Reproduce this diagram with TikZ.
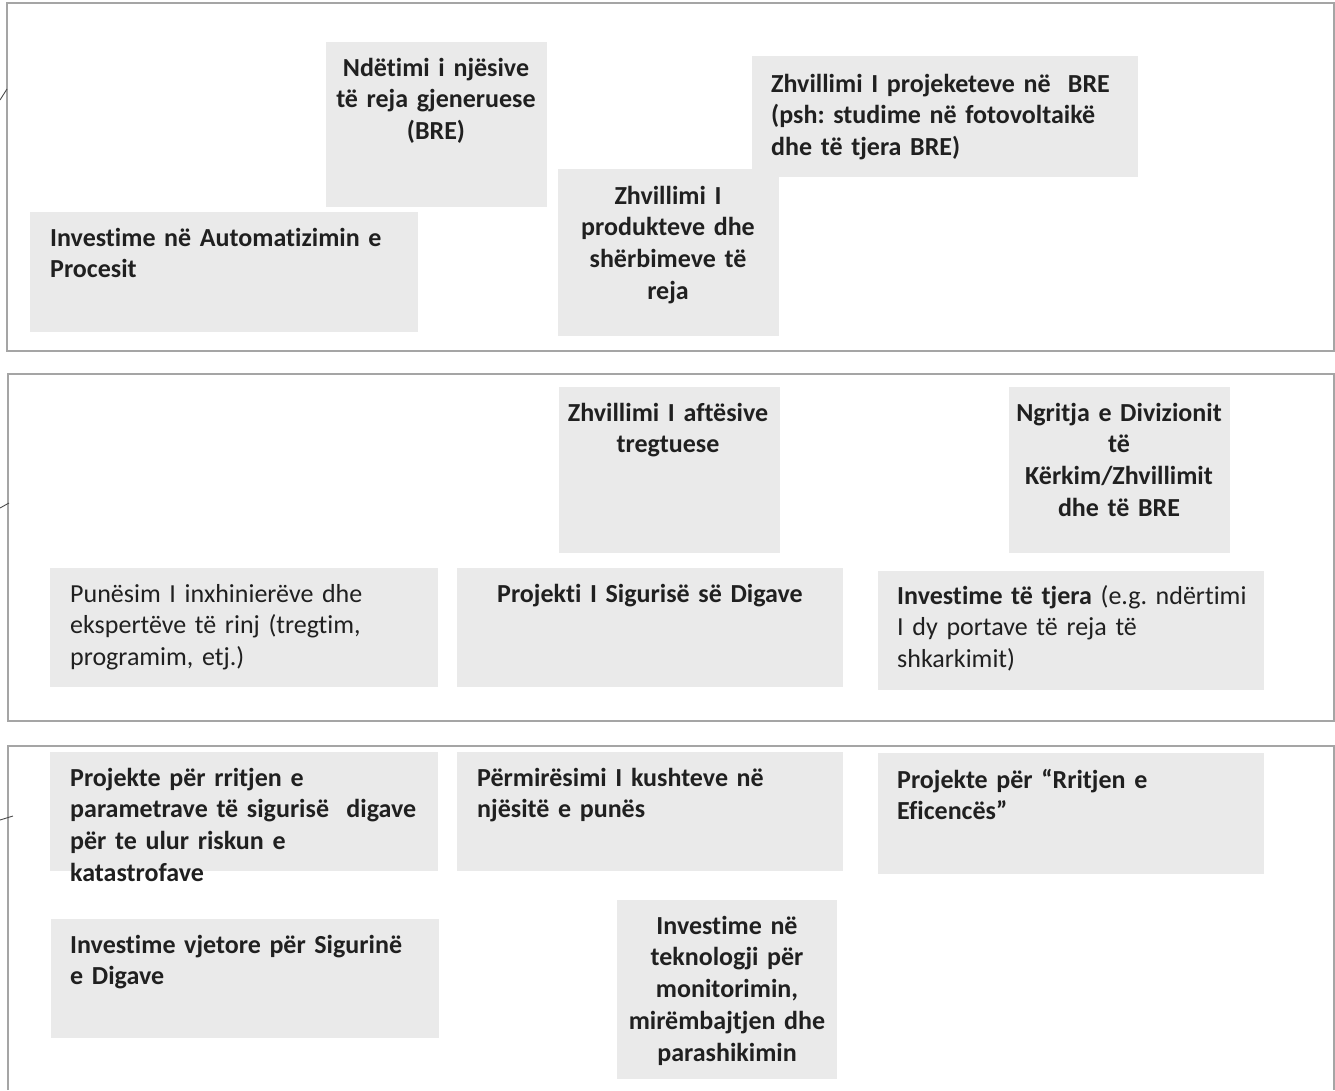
\documentclass[tikz,border=0pt]{standalone}
\usepackage{fontspec}
\setmainfont{Carlito}[Ligatures={NoCommon,NoContextual}]

\definecolor{grikuti}{RGB}{234,234,234}
\definecolor{grikorniza}{RGB}{165,165,165}
\definecolor{bojateksti}{RGB}{32,32,32}

\begin{document}
\frenchspacing
\begin{tikzpicture}[x=1pt, y=-1pt,
    kuti/.style={fill=grikuti},
    korniza/.style={draw=grikorniza, line width=1.3pt},
    vija/.style={draw=black!70, line width=0.9pt},
    teksti/.style={anchor=base west, inner sep=0pt, align=left, text=bojateksti,
        text width=#1, font=\fontsize{26}{31.8}\selectfont\bfseries},
    teksti/.default=420,
    tekstiq/.style={teksti=#1, anchor=base, align=center},
    tekstiq/.default=218]

    \useasboundingbox (0,0) rectangle (1335,1090);

    % =================================================================
    % 1. KORNIZAT E TRE PANELEVE
    % =================================================================
    \coordinate (P1) at (7,3);
    \coordinate (P1b) at (1334,351);
    \coordinate (P2) at (8,374);
    \coordinate (P2b) at (1334,721);

    \draw[korniza] (P1) rectangle (P1b);
    \draw[korniza] (P2) rectangle (P2b);
    \draw[korniza] (8,1090) -- (8,746) -- (1334,746) -- (1334,1090);

    % vijat e vogla qe hyjne nga e majta
    \coordinate (m1) at (0,100);  \coordinate (m1p) at (7,89);
    \coordinate (m2) at (0,508);  \coordinate (m2p) at (9,503);
    \coordinate (m3) at (0,820);  \coordinate (m3p) at (13,816);
    \draw[vija] (m1) -- (m1p);
    \draw[vija] (m2) -- (m2p);
    \draw[vija] (m3) -- (m3p);

    % =================================================================
    % 2. PANELI I PARE
    % =================================================================
    \fill[kuti] (326,42) rectangle (547,207);
    \fill[kuti] (752,56) rectangle (1138,177);
    \fill[kuti] (558,169) rectangle (779,336);
    \fill[kuti] (30,212) rectangle (418,332);

    \node[tekstiq] (ndertimi) at (436,76) {Ndëtimi i njësive\\ të reja gjeneruese\\ (BRE)};
    \node[teksti] (projeketet) at (771,92) {Zhvillimi I projeketeve në\ \ BRE\\ (psh: studime në fotovoltaikë\\ dhe të tjera BRE)};
    \node[tekstiq] (produktet) at (668,204) {Zhvillimi I\\ produkteve dhe\\ shërbimeve të\\ reja};
    \node[teksti] (automatizimi) at (50,246) {Investime në Automatizimin e\\ Procesit};

    % =================================================================
    % 3. PANELI I DYTE
    % =================================================================
    \fill[kuti] (559,387) rectangle (780,553);
    \fill[kuti] (1009,387) rectangle (1230,553);
    \fill[kuti] (50,568) rectangle (438,687);
    \fill[kuti] (457,568) rectangle (843,687);
    \fill[kuti] (878,571) rectangle (1264,690);

    \node[tekstiq] (aftesite) at (668,421) {Zhvillimi I aftësive\\ tregtuese};
    \node[tekstiq] (divizioni) at (1119,421) {Ngritja e Divizionit\\ të\\ Kërkim/Zhvillimit\\ dhe të BRE};
    \node[teksti, font=\fontsize{26}{31.8}\selectfont\mdseries] (punesimi) at (70,602)
        {Punësim I inxhinierëve dhe\\ ekspertëve të rinj (tregtim,\\ programim, etj.)};
    \node[tekstiq=380] (siguria) at (650,602) {Projekti I Sigurisë së Digave};
    \node[teksti, font=\fontsize{26}{31.8}\selectfont\mdseries] (tjera) at (897,604)
        {\textbf{Investime të tjera} (e.g. ndërtimi\\ I dy portave të reja të\\ shkarkimit)};

    % =================================================================
    % 4. PANELI I TRETE
    % =================================================================
    \fill[kuti] (50,752) rectangle (438,871);
    \fill[kuti] (51,919) rectangle (439,1038);
    \fill[kuti] (457,752) rectangle (843,871);
    \fill[kuti] (878,753) rectangle (1264,874);
    \fill[kuti] (617,900) rectangle (837,1079);

    \node[teksti] (rritja) at (70,786) {Projekte për rritjen e\\ parametrave të sigurisë\ \ digave\\ për te ulur riskun e\\ katastrofave};
    \node[teksti] (vjetore) at (70,953) {Investime vjetore për Sigurinë\\ e Digave};
    \node[teksti] (kushtet) at (477,786) {Përmirësimi I kushteve në\\ njësitë e punës};
    \node[teksti] (eficenca) at (897,788) {Projekte për “Rritjen e\\ Eficencës”};
    \node[tekstiq] (teknologji) at (727,934) {Investime në\\ teknologji për\\ monitorimin,\\ mirëmbajtjen dhe\\ parashikimin};

\end{tikzpicture}
\end{document}
